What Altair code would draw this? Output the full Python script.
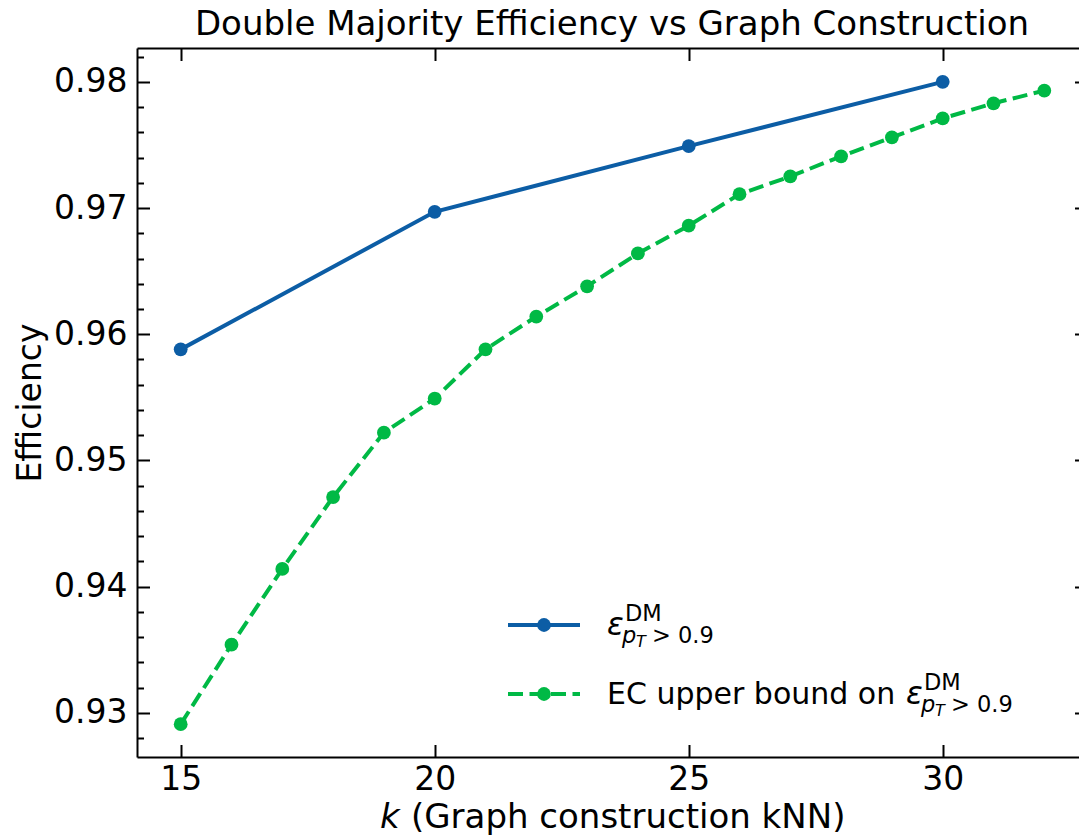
import altair as alt
import pandas as pd

# Double-majority efficiency measured at a few kNN settings
k_dm = [15, 20, 25, 30]
eff_dm = [0.9588, 0.9697, 0.9749, 0.9800]

# Edge-classifier upper bound on the same efficiency, every k from 15 to 32
k_ec = [15, 16, 17, 18, 19, 20, 21, 22, 23, 24, 25, 26, 27, 28, 29, 30, 31, 32]
eff_ec = [0.9291, 0.9354, 0.9414, 0.9471, 0.9522, 0.9549, 0.9588, 0.9614, 0.9638,
          0.9664, 0.9686, 0.9711, 0.9725, 0.9741, 0.9756, 0.9771, 0.9783, 0.9793]

# Axis tick values
x_ticks = [15, 20, 25, 30]
y_ticks = [0.93, 0.94, 0.95, 0.96, 0.97, 0.98]
y_minor = [0.928, 0.932, 0.934, 0.936, 0.938, 0.942, 0.944, 0.946, 0.948,
           0.952, 0.954, 0.956, 0.958, 0.962, 0.964, 0.966, 0.968,
           0.972, 0.974, 0.976, 0.978, 0.982]

BLUE = "#0C5DA5"
GREEN = "#00B945"
FONT = "DejaVu Sans"
W, H = 942, 709
MAJOR, MINOR = 12.5, 6.5
DOT = 190

dm = pd.DataFrame({"k": k_dm, "eff": eff_dm})
ec = pd.DataFrame({"k": k_ec, "eff": eff_ec})

xs = alt.Scale(domain=[14.14, 32.683], nice=False, zero=False)
ys = alt.Scale(domain=[0.9265, 0.98268], nice=False, zero=False)


def inward(orient, offset, values, size, domain=False):
    """Label-free axis used only to draw ticks pointing into the plot."""
    return alt.Axis(orient=orient, offset=offset, values=values, tickSize=size,
                    labels=False, domain=domain, title=None)


x_main = alt.Axis(orient="bottom", values=x_ticks, ticks=False, domain=True,
                  labelPadding=32, labelBaseline="alphabetic", title=None)
y_main = alt.Axis(orient="left", values=y_ticks, format=".2f", ticks=False, domain=True,
                  labelPadding=10, title="Efficiency", titleX=-97, titleY=H / 2,
                  titleAngle=270, titleAlign="center", titleBaseline="alphabetic")

x_top = inward("bottom", -H, x_ticks, MAJOR, domain=True)     # top spine + ticks
x_bottom_in = inward("top", -H, x_ticks, MAJOR)                # bottom ticks, inward
y_left_major = inward("right", -W, y_ticks, MAJOR)
y_left_minor = inward("right", -W, y_minor, MINOR)
y_right_major = inward("left", -(W + 8), y_ticks, MAJOR)

blue_line = alt.Chart(dm).mark_line(color=BLUE, strokeWidth=4).encode(
    x=alt.X("k:Q", scale=xs, axis=x_main),
    y=alt.Y("eff:Q", scale=ys, axis=y_main),
)
blue_pts = alt.Chart(dm).mark_point(filled=True, color=BLUE, size=DOT, opacity=1).encode(
    x=alt.X("k:Q", scale=xs, axis=x_bottom_in),
    y=alt.Y("eff:Q", scale=ys, axis=y_left_major),
)
green_line = alt.Chart(ec).mark_line(color=GREEN, strokeWidth=4, strokeDash=[15, 6.5]).encode(
    x=alt.X("k:Q", scale=xs, axis=x_top),
    y=alt.Y("eff:Q", scale=ys, axis=y_left_minor),
)
green_pts = alt.Chart(ec).mark_point(filled=True, color=GREEN, size=DOT, opacity=1).encode(
    x=alt.X("k:Q", scale=xs, axis=None),
    y=alt.Y("eff:Q", scale=ys, axis=y_right_major),
)

ONE = alt.Data(values=[{}])


def txt(s, x, y, size, italic=False, align="left"):
    return alt.Chart(ONE).mark_text(
        text=s, font=FONT, fontSize=size, fontStyle="italic" if italic else "normal",
        align=align, baseline="alphabetic", color="black",
    ).encode(x=alt.value(x), y=alt.value(y))


def eps_label(x, base):
    """epsilon^DM_{p_T > 0.9} set as separate pieces of text."""
    return [
        txt("ε", x, base, 31, italic=True),
        txt("DM", x + 18, base - 14, 22.5),
        txt("p", x + 15, base + 8, 22.5, italic=True),
        txt("T", x + 29, base + 12, 16, italic=True),
        txt("> 0.9", x + 45, base + 8, 22.5),
    ]


def handle(y, color, dash=None):
    rule_kw = dict(color=color, strokeWidth=4)
    if dash:
        rule_kw["strokeDash"] = dash
    rule = alt.Chart(ONE).mark_rule(**rule_kw).encode(
        x=alt.value(371), x2=alt.value(443), y=alt.value(y))
    dot = alt.Chart(ONE).mark_point(filled=True, color=color, size=DOT, opacity=1).encode(
        x=alt.value(407), y=alt.value(y))
    return [rule, dot]


legend = (
    handle(577, BLUE) + eps_label(470, 587)
    + handle(646, GREEN, [15, 6.5])
    + [txt("EC upper bound on", 470, 656, 30)] + eps_label(769, 656)
)

x_title = [
    txt("k", 243, 780, 34, italic=True),
    txt("(Graph construction kNN)", 274, 780, 34),
]

plot_title = txt("Double Majority Efficiency vs Graph Construction", 475, -13, 34,
                 align="center")

chart = alt.layer(
    blue_line, blue_pts, green_line, green_pts, *legend, *x_title, plot_title
).resolve_axis(
    x="independent", y="independent"
).properties(
    width=W,
    height=H,
    background="white",
    autosize=alt.AutoSizeParams(type="none"),
    padding={"left": 137, "top": 48, "right": 0, "bottom": 78},
).configure_axis(
    grid=False, tickColor="black", tickWidth=2, domainColor="black", domainWidth=2,
    labelColor="black", labelFont=FONT, labelFontSize=33,
    titleFont=FONT, titleFontSize=33, titleFontWeight="normal", titleColor="black",
).configure_view(
    stroke=None
)

chart.save("out.html", embed_options={"renderer": "svg", "actions": False})
